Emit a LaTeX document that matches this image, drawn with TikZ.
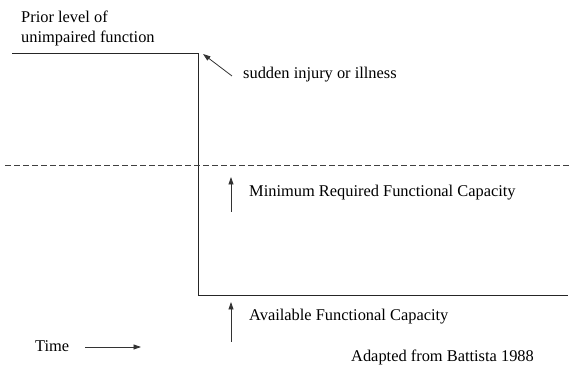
\documentclass[tikz,border=0pt]{standalone}
\usepackage{fontspec}
\setmainfont{Liberation Serif}
\usetikzlibrary{arrows.meta}
\begin{document}
\begin{tikzpicture}[x=1pt,y=-1pt,
  lbl/.style={anchor=base west,inner sep=0pt,font=\fontsize{16.4}{19}\selectfont},
  curve/.style={line width=0.9pt,black!85},
  pointer/.style={line width=0.8pt,black!80,-{Triangle[length=7.5pt,width=5pt]}},
  threshold/.style={line width=0.7pt,black!75,dash pattern=on 6pt off 3pt}]
\useasboundingbox (0,0) rectangle (571,366);
% functional level over time
\coordinate (c0) at (12,53);
\coordinate (c1) at (198,53);
\coordinate (c2) at (198,295);
\coordinate (c3) at (568,295);
\draw[curve] (c0) -- (c1) -- (c2) -- (c3);
% minimum required level
\coordinate (d0) at (5,165);
\coordinate (d1) at (571,165);
\draw[threshold] (d0) -- (d1);
% labels
\node[lbl] (prior1) at (21,23) {Prior level of};
\node[lbl] (prior2) at (21,43) {unimpaired function};
\node[lbl] (injury) at (243,79) {sudden injury or illness};
\node[lbl] (minreq) at (249,197) {Minimum Required Functional Capacity};
\node[lbl] (avail) at (249,321) {Available Functional Capacity};
\node[lbl] (time) at (35,352) {Time};
\node[lbl] (source) at (351,362) {Adapted from Battista 1988};
% pointers
\coordinate (p0) at (232,76);
\coordinate (p1) at (203,54);
\draw[pointer] (p0) -- (p1);
\coordinate (m0) at (231,212);
\coordinate (m1) at (231,177);
\draw[pointer] (m0) -- (m1);
\coordinate (a0) at (231,342);
\coordinate (a1) at (231,302);
\draw[pointer] (a0) -- (a1);
\coordinate (t0) at (85,347);
\coordinate (t1) at (141,347);
\draw[pointer] (t0) -- (t1);
\end{tikzpicture}
\end{document}
